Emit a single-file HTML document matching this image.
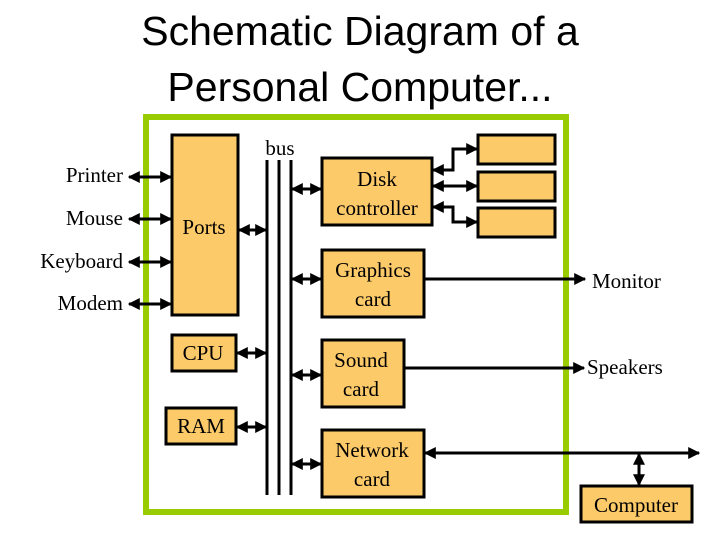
<!DOCTYPE html>
<html><head><meta charset="utf-8"><style>
html,body{margin:0;padding:0;background:#fff;}
svg{display:block;}
text{font-family:"Liberation Serif",serif;font-size:21px;fill:#000;}
.t{font-family:"Liberation Sans",sans-serif;font-size:41px;}
</style></head><body>
<svg width="720" height="540" viewBox="0 0 720 540" xmlns="http://www.w3.org/2000/svg">
<defs>
<marker id="a" viewBox="0 0 10 10" refX="9" refY="5" markerWidth="4" markerHeight="4" orient="auto-start-reverse"><path d="M0,0 L10,5 L0,10 z" fill="#000"/></marker>
</defs>
<text class="t" x="360" y="45" text-anchor="middle">Schematic Diagram of a</text>
<text class="t" x="360" y="101" text-anchor="middle">Personal Computer...</text>
<rect x="146" y="117" width="420" height="395" fill="none" stroke="#99cc00" stroke-width="6"/>
<g fill="#fdca6a" stroke="#000" stroke-width="3">
<rect x="172" y="135" width="66" height="180"/>
<rect x="322" y="158" width="110" height="67"/>
<rect x="478" y="135" width="77" height="29"/>
<rect x="478" y="172" width="77" height="29"/>
<rect x="478" y="208" width="77" height="29"/>
<rect x="322" y="250" width="102" height="67"/>
<rect x="322" y="340" width="82" height="67"/>
<rect x="322" y="430" width="102" height="67"/>
<rect x="172" y="335" width="64" height="36"/>
<rect x="166" y="408" width="70" height="36"/>
<rect x="581" y="486" width="111" height="36"/>
</g>
<g stroke="#000" stroke-width="3">
<line x1="267" y1="160" x2="267" y2="495"/>
<line x1="279" y1="160" x2="279" y2="495"/>
<line x1="291" y1="160" x2="291" y2="495"/>
</g>
<g stroke="#000" stroke-width="3" fill="none" marker-start="url(#a)" marker-end="url(#a)">
<line x1="129" y1="177" x2="171" y2="177"/>
<line x1="129" y1="219" x2="171" y2="219"/>
<line x1="129" y1="262" x2="171" y2="262"/>
<line x1="129" y1="304" x2="171" y2="304"/>
<line x1="239" y1="230" x2="266" y2="230"/>
<line x1="237" y1="353" x2="266" y2="353"/>
<line x1="237" y1="427" x2="266" y2="427"/>
<line x1="292" y1="189" x2="321" y2="189"/>
<line x1="292" y1="279" x2="321" y2="279"/>
<line x1="292" y1="375" x2="321" y2="375"/>
<line x1="292" y1="464" x2="321" y2="464"/>
<polyline points="433,170 453,170 453,149 477,149"/>
<line x1="433" y1="186" x2="477" y2="186"/>
<polyline points="433,207 453,207 453,222 477,222"/>
<line x1="425" y1="453" x2="699" y2="453"/>
<line x1="639" y1="454" x2="639" y2="485"/>
</g>
<g stroke="#000" stroke-width="3" marker-end="url(#a)">
<line x1="425" y1="279" x2="585" y2="279"/>
<line x1="405" y1="368" x2="584" y2="368"/>
</g>
<text x="123" y="182" text-anchor="end">Printer</text>
<text x="123" y="225" text-anchor="end">Mouse</text>
<text x="123" y="268" text-anchor="end">Keyboard</text>
<text x="123" y="310" text-anchor="end">Modem</text>
<text x="204" y="234" text-anchor="middle">Ports</text>
<text x="280" y="155" text-anchor="middle">bus</text>
<text x="377" y="186" text-anchor="middle">Disk</text>
<text x="377" y="215" text-anchor="middle">controller</text>
<text x="373" y="277" text-anchor="middle">Graphics</text>
<text x="373" y="306" text-anchor="middle">card</text>
<text x="361" y="367" text-anchor="middle">Sound</text>
<text x="361" y="396" text-anchor="middle">card</text>
<text x="372" y="457" text-anchor="middle">Network</text>
<text x="372" y="486" text-anchor="middle">card</text>
<text x="203" y="360" text-anchor="middle">CPU</text>
<text x="201" y="433" text-anchor="middle">RAM</text>
<text x="636" y="512" text-anchor="middle">Computer</text>
<text x="592" y="288">Monitor</text>
<text x="587" y="374">Speakers</text>
</svg>
</body></html>
